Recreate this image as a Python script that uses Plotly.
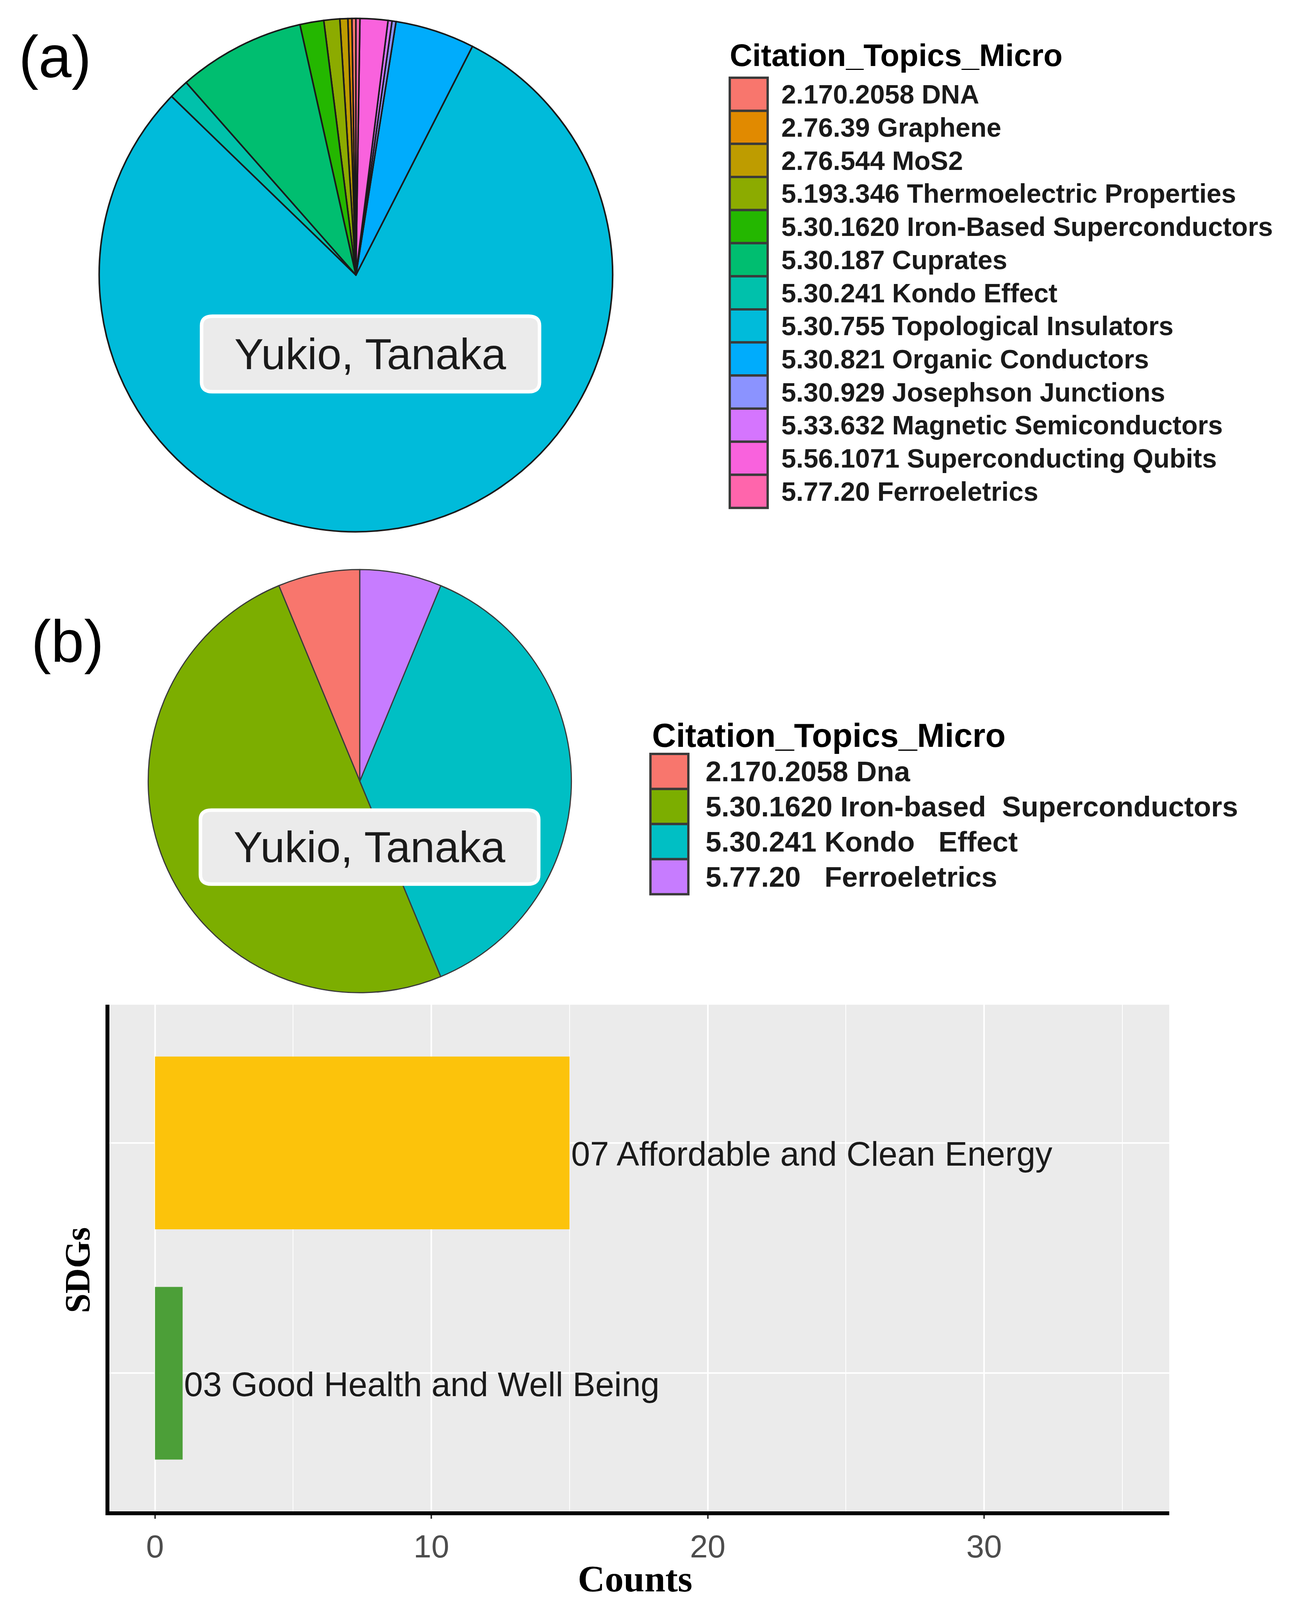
import plotly.graph_objects as go

# Reference picture size; all positions below are given in reference pixels and
# converted to paper fractions, so the figure fills whatever viewport it gets.
RW, RH = 3320, 4787
VIEW_H = 4096            # height the page actually gets in the browser
YS = VIEW_H / RH         # vertical scale for pixel offsets

def px(x):
    return x / RW

def py(y):
    return 1 - y / RH

# ---------------- data ----------------
topics_a = [
    "2.170.2058 DNA",
    "2.76.39 Graphene",
    "2.76.544 MoS2",
    "5.193.346 Thermoelectric Properties",
    "5.30.1620 Iron-Based Superconductors",
    "5.30.187 Cuprates",
    "5.30.241 Kondo Effect",
    "5.30.755 Topological Insulators",
    "5.30.821 Organic Conductors",
    "5.30.929 Josephson Junctions",
    "5.33.632 Magnetic Semiconductors",
    "5.56.1071 Superconducting Qubits",
    "5.77.20 Ferroeletrics",
]
counts_a = [1, 1, 2, 4, 6, 32, 5, 319, 20, 1, 1, 7, 1]
colors_a = ["#F8766D", "#E18A00", "#BE9C00", "#8CAB00", "#24B700", "#00BE70",
            "#00C1AB", "#00BBDA", "#00ACFC", "#8B93FF", "#D575FE", "#F962DD", "#FF65AC"]

topics_b = [
    "2.170.2058 Dna",
    "5.30.1620 Iron-based\u00a0\u00a0Superconductors",
    "5.30.241 Kondo\u00a0\u00a0\u00a0Effect",
    "5.77.20\u00a0\u00a0\u00a0Ferroeletrics",
]
counts_b = [1, 8, 6, 1]
colors_b = ["#F8766D", "#7CAE00", "#00BFC4", "#C77CFF"]

author = "Yukio, Tanaka"
legend_title = "Citation_Topics_Micro"

sdgs = ["03 Good Health and Well Being", "07 Affordable and Clean Energy"]
sdg_counts = [1, 15]
sdg_colors = ["#4C9F38", "#FCC30B"]
x_ticks = [0, 10, 20, 30]

SANS = "Liberation Sans, Arial, sans-serif"
SERIF = "Liberation Serif, Times New Roman, serif"

fig = go.Figure()

# plotly puts the first counterclockwise slice on the clockwise side of the
# start angle; shift the start back by that slice so it begins at 12 o'clock
rot_a = -360.0 * counts_a[0] / sum(counts_a)
rot_b = -360.0 * counts_b[0] / sum(counts_b)

# ---------------- pie (a) ----------------
ca_x, ca_y, ra = 911, 823, 768
fig.add_trace(go.Pie(
    labels=topics_a, values=counts_a, sort=False, direction="counterclockwise",
    rotation=rot_a, textinfo="none", showlegend=False,
    marker=dict(colors=colors_a, line=dict(color="#1a1a1a", width=4)),
    domain=dict(x=[px(ca_x - ra), px(ca_x + ra)], y=[py(ca_y + ra), py(ca_y - ra)]),
))

# ---------------- pie (b) ----------------
cb_x, cb_y, rb = 921, 2337, 633
fig.add_trace(go.Pie(
    labels=topics_b, values=counts_b, sort=False, direction="counterclockwise",
    rotation=rot_b, textinfo="none", showlegend=False,
    marker=dict(colors=colors_b, line=dict(color="#3a3a3a", width=3)),
    domain=dict(x=[px(cb_x - rb), px(cb_x + rb)], y=[py(cb_y + rb), py(cb_y - rb)]),
))

# ---------------- bar chart ----------------
fig.add_trace(go.Bar(
    y=sdgs, x=sdg_counts, orientation="h", width=0.75,
    marker=dict(color=sdg_colors, line=dict(width=0)),
    showlegend=False, xaxis="x", yaxis="y",
))

bar_left, bar_right, bar_top, bar_bottom = 280, 2993, 3006, 4522
fig.update_layout(
    xaxis=dict(
        domain=[px(bar_left), px(bar_right)], anchor="y",
        range=[-1.65, 36.7], tickvals=x_ticks, ticktext=[str(t) for t in x_ticks],
        showgrid=True, gridcolor="white", gridwidth=4, zeroline=False,
        minor=dict(dtick=5, tick0=0, showgrid=True, gridcolor="white", gridwidth=2),
        showline=True, linecolor="black", linewidth=10,
        ticks="outside", ticklen=9, tickwidth=4, tickcolor="#333333",
        tickfont=dict(family=SANS, size=82, color="#4D4D4D"),
        fixedrange=True,
    ),
    yaxis=dict(
        domain=[py(bar_bottom), py(bar_top)], anchor="x",
        type="category", categoryorder="array", categoryarray=sdgs,
        range=[-0.6, 1.6], showticklabels=False, ticks="",
        showgrid=True, gridcolor="white", gridwidth=4, zeroline=False,
        showline=True, linecolor="black", linewidth=10,
        fixedrange=True,
    ),
    plot_bgcolor="#EBEBEB",
    paper_bgcolor="white",
    autosize=True,
    margin=dict(l=0, r=0, t=0, b=0),
)

annotations = []
shapes = []

# bar value labels
for name, val in zip(sdgs, sdg_counts):
    annotations.append(dict(
        x=val, y=name, xref="x", yref="y", text=name, showarrow=False,
        xanchor="left", yanchor="middle", xshift=2, yshift=-round(33 * YS),
        font=dict(family=SANS, size=87, color="#1a1a1a"),
    ))

# axis titles
annotations.append(dict(
    x=px(1625), y=0, xref="paper", yref="paper", text="Counts",
    showarrow=False, xanchor="center", yanchor="bottom", borderpad=0,
    font=dict(family=SERIF, size=96, color="black", weight="bold"),
))
annotations.append(dict(
    x=px(198), y=py(3800), xref="paper", yref="paper", text="SDGs",
    showarrow=False, xanchor="center", yanchor="middle", textangle=-90,
    font=dict(family=SERIF, size=90, color="black", weight="bold"),
))

# panel tags
annotations.append(dict(
    x=px(141), y=py(170), xref="paper", yref="paper", text="(a)",
    showarrow=False, xanchor="center", yanchor="middle",
    font=dict(family=SANS, size=152, color="black"),
))
annotations.append(dict(
    x=px(173), y=py(1918), xref="paper", yref="paper", text="(b)",
    showarrow=False, xanchor="center", yanchor="middle",
    font=dict(family=SANS, size=152, color="black"),
))


def rounded_box(x0, y0, x1, y1, r):
    rx, ry = r / RW, r / RH
    X0, X1 = px(x0), px(x1)
    Y0, Y1 = py(y1), py(y0)  # Y0 bottom, Y1 top
    return (f"M {X0 + rx},{Y0} L {X1 - rx},{Y0} Q {X1},{Y0} {X1},{Y0 + ry} "
            f"L {X1},{Y1 - ry} Q {X1},{Y1} {X1 - rx},{Y1} "
            f"L {X0 + rx},{Y1} Q {X0},{Y1} {X0},{Y1 - ry} "
            f"L {X0},{Y0 + ry} Q {X0},{Y0} {X0 + rx},{Y0} Z")


for (bx0, by0, bx1, by1) in [(516, 946, 1381, 1172), (513, 2424, 1379, 2645)]:
    shapes.append(dict(
        type="path", xref="paper", yref="paper",
        path=rounded_box(bx0, by0, bx1, by1, 28),
        fillcolor="#EBEBEB", line=dict(color="white", width=9), layer="above",
    ))
    annotations.append(dict(
        x=px((bx0 + bx1) / 2), y=py((by0 + by1) / 2), xref="paper", yref="paper",
        text=author, showarrow=False, xanchor="center", yanchor="middle",
        font=dict(family=SANS, size=112, color="#1a1a1a"),
    ))

# legend (a)
annotations.append(dict(
    x=px(1866), y=py(165), xref="paper", yref="paper", text=legend_title,
    showarrow=False, xanchor="left", yanchor="middle",
    font=dict(family=SANS, size=80, color="black", weight="bold"),
))
step_a = 99
for i, (lab, col) in enumerate(zip(topics_a, colors_a)):
    yc = 282 + step_a * i
    shapes.append(dict(
        type="rect", xref="paper", yref="paper",
        x0=px(1868), x1=px(1965), y0=py(yc + step_a / 2), y1=py(yc - step_a / 2),
        fillcolor=col, line=dict(color="#3a3a3a", width=6), layer="above",
    ))
    annotations.append(dict(
        x=px(1998), y=py(yc), xref="paper", yref="paper", text=lab,
        showarrow=False, xanchor="left", yanchor="middle",
        font=dict(family=SANS, size=68, color="#1a1a1a", weight="bold"),
    ))

# legend (b)
annotations.append(dict(
    x=px(1667), y=py(2200), xref="paper", yref="paper", text=legend_title,
    showarrow=False, xanchor="left", yanchor="middle",
    font=dict(family=SANS, size=85, color="black", weight="bold"),
))
step_b = 105
for i, (lab, col) in enumerate(zip(topics_b, colors_b)):
    yc = 2308 + step_b * i
    shapes.append(dict(
        type="rect", xref="paper", yref="paper",
        x0=px(1665), x1=px(1762), y0=py(yc + step_b / 2), y1=py(yc - step_b / 2),
        fillcolor=col, line=dict(color="#3a3a3a", width=6), layer="above",
    ))
    annotations.append(dict(
        x=px(1804), y=py(yc), xref="paper", yref="paper", text=lab,
        showarrow=False, xanchor="left", yanchor="middle",
        font=dict(family=SANS, size=73, color="#1a1a1a", weight="bold"),
    ))

fig.update_layout(annotations=annotations, shapes=shapes)

fit_js = (
    "document.documentElement.style.margin='0';"
    "document.body.style.margin='0';"
    "document.documentElement.style.overflow='hidden';"
    "var gd=document.getElementById('{plot_id}');"
    "Plotly.Plots.resize(gd);"
)

fig.write_html("out.html", default_width="100vw", default_height="100vh",
               config={"responsive": True, "displayModeBar": False},
               post_script=fit_js)
